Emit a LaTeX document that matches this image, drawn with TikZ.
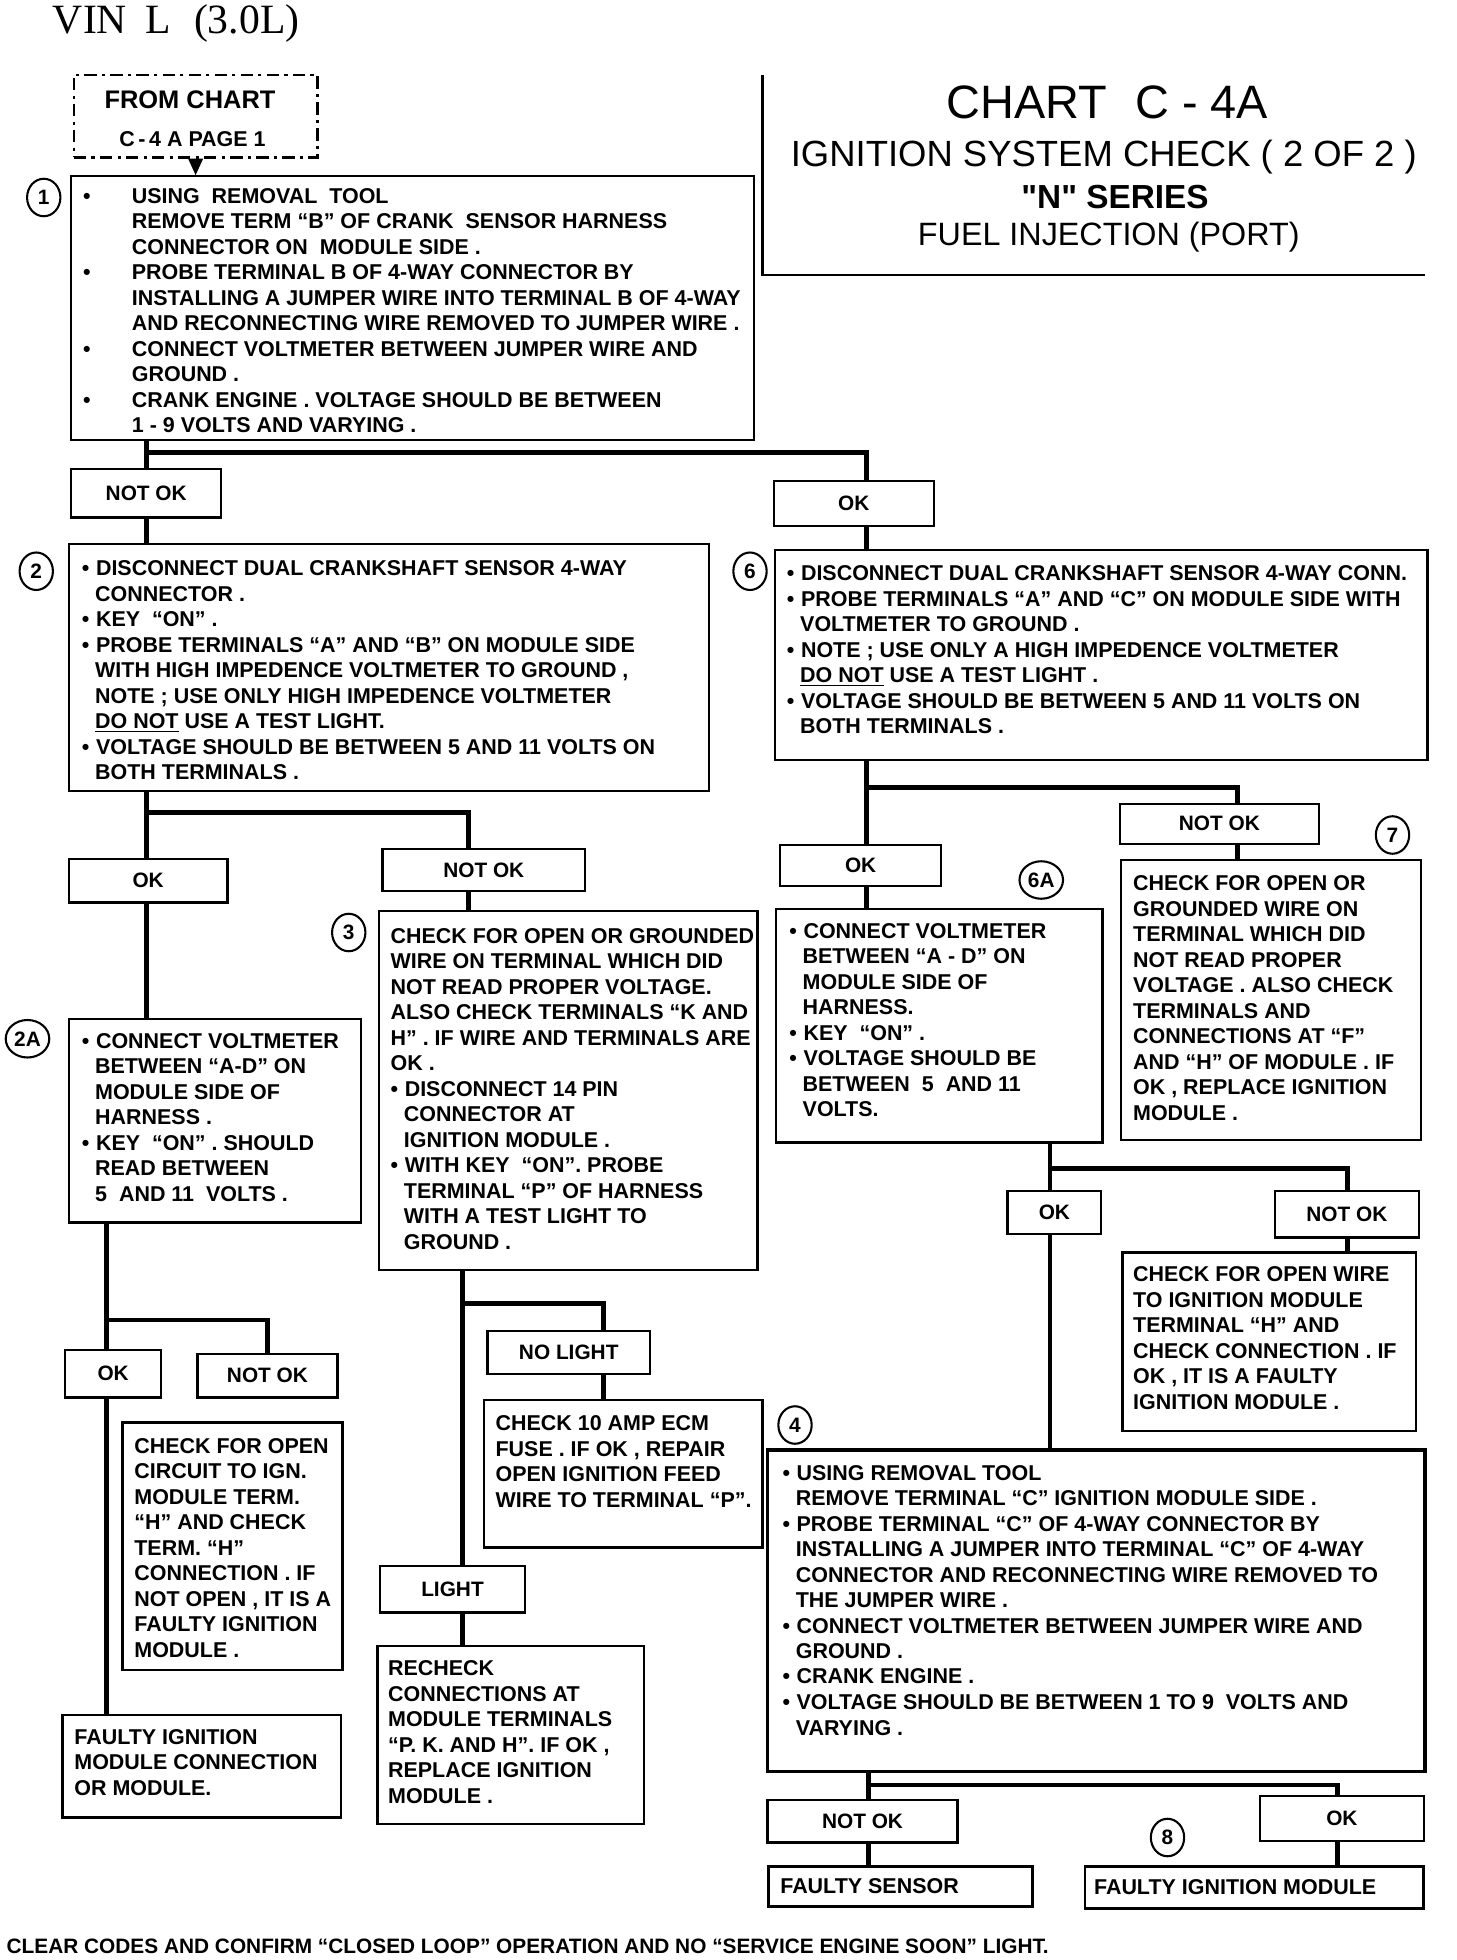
\documentclass[tikz,border=0pt]{standalone}
\usepackage{fontspec}
\setmainfont{Liberation Sans}
\newfontfamily\vinfont{Liberation Serif}
\newfontfamily\seriesfont{Liberation Sans}[Ligatures=TeXOff]
\usetikzlibrary{arrows.meta,fit,shapes.geometric}
% bullets with hanging continuation lines
\newcommand{\bl}{\makebox[0.66em][l]{\textbullet}}
\newcommand{\hg}{\hspace*{0.62em}}
\newcommand{\wbl}{\makebox[23.4pt][l]{\textbullet}}
\newcommand{\whg}{\hspace*{23.4pt}}
\begin{document}
\begin{tikzpicture}[x=0.6pt,y=-0.6pt,
  box/.style={draw,line width=1pt,inner sep=0pt},
  choice/.style={draw,line width=1pt,inner sep=0pt,
    label={[inner sep=0pt,font=\bfseries\fontsize{10}{12}\selectfont]center:#1}},
  txt/.style={anchor=north west,inner sep=0pt,align=left,font=\bfseries\fontsize{10.3}{12.24}\selectfont},
  num/.style={draw,ellipse,line width=1pt,inner sep=1pt,minimum width=16pt,minimum height=18pt,font=\bfseries\fontsize{10}{12}\selectfont},
  wire/.style={line width=2.3pt}]
\useasboundingbox (0,0) rectangle (1165,1568);

% header and title block
\node[font=\vinfont\fontsize{20}{24}\selectfont,anchor=base west,inner sep=0pt] (vin) at (42,27) {VIN\hspace{0.45em}L\hspace{0.55em}(3.0L)};
\node[font=\fontsize{22.5}{26}\selectfont] (chart) at (886,82) {CHART\hspace{0.6em}C - 4A};
\node[font=\fontsize{17.5}{20}\selectfont] (ignsys) at (883,126) {IGNITION SYSTEM CHECK ( 2 OF 2 )};
\node[font=\seriesfont\bfseries\fontsize{16}{19}\selectfont] (series) at (892,158) {"N" SERIES};
\node[font=\fontsize{15.5}{18}\selectfont] (fuel) at (887,190) {FUEL INJECTION (PORT)};
\draw[line width=1pt] (610,60) -- (610,220) -- (1140,220);

% step 1
\node[box,dash pattern=on 6pt off 2.5pt on 1.5pt off 2.5pt,fit={(59,60) (254,126)}] (from) {};
\node[font=\bfseries\fontsize{12.2}{14}\selectfont] (fromA) at (152,80) {FROM CHART};
\node[font=\bfseries\fontsize{10.3}{12}\selectfont] (fromB) at (154,111) {C\,-\,4 A PAGE 1};
\node[box,fit={(57,141) (603,352)}] (b1) {};
\node[txt] (t1) at ([shift={(10,10)}]b1.north west) {\wbl USING\ \ REMOVAL\ \ TOOL\\
\whg REMOVE TERM “B” OF CRANK\ \ SENSOR HARNESS\\
\whg CONNECTOR ON\ \ MODULE SIDE .\\
\wbl PROBE TERMINAL B OF 4-WAY CONNECTOR BY\\
\whg INSTALLING A JUMPER WIRE INTO TERMINAL B OF 4-WAY\\
\whg AND RECONNECTING WIRE REMOVED TO JUMPER WIRE .\\
\wbl CONNECT VOLTMETER BETWEEN JUMPER WIRE AND\\
\whg GROUND .\\
\wbl CRANK ENGINE . VOLTAGE SHOULD BE BETWEEN\\
\whg 1 - 9 VOLTS AND VARYING .};
\node[num] (c1) at (35,158) {1};
\draw[line width=1pt,-{Triangle[length=8pt,width=7pt]}] (from.south) -- (from.south |- b1.north);

\coordinate (j1) at (117,362);
\coordinate (j1r) at (693,362);
\node[choice=NOT OK,fit={(57,375) (177,414)}] (nok1) {};
\node[choice=OK,fit={(619,385) (747,421)}] (ok1) {};
\draw[wire] (b1.south -| j1) -- (nok1.north -| j1);
\draw[wire] (j1) -- (j1r) -- (ok1.north -| j1r);

% step 2 and step 6
\node[box,fit={(55,435) (567,633)}] (b2) {};
\node[txt] (t2) at ([shift={(11,14)}]b2.north west) {\bl DISCONNECT DUAL CRANKSHAFT SENSOR 4-WAY\\
\hg CONNECTOR .\\
\bl KEY\ \ “ON” .\\
\bl PROBE TERMINALS “A” AND “B” ON MODULE SIDE\\
\hg WITH HIGH IMPEDENCE VOLTMETER TO GROUND ,\\
\hg NOTE ; USE ONLY HIGH IMPEDENCE VOLTMETER\\
\hg \underline{DO NOT} USE A TEST LIGHT.\\
\bl VOLTAGE SHOULD BE BETWEEN 5 AND 11 VOLTS ON\\
\hg BOTH TERMINALS .};
\node[num] (c2) at (29,457) {2};
\draw[wire] (nok1.south -| j1) -- (b2.north -| j1);

\node[box,fit={(620,440) (1142,608)}] (b6) {};
\node[txt] (t6) at ([shift={(10,13)}]b6.north west) {\bl DISCONNECT DUAL CRANKSHAFT SENSOR 4-WAY CONN.\\
\bl PROBE TERMINALS “A” AND “C” ON MODULE SIDE WITH\\
\hg VOLTMETER TO GROUND .\\
\bl NOTE ; USE ONLY A HIGH IMPEDENCE VOLTMETER\\
\hg \underline{DO NOT} USE A TEST LIGHT .\\
\bl VOLTAGE SHOULD BE BETWEEN 5 AND 11 VOLTS ON\\
\hg BOTH TERMINALS .};
\node[num] (c6) at (600,457) {6};
\draw[wire] (ok1.south -| j1r) -- (b6.north -| j1r);

% left branch: 2A and 3
\coordinate (j2) at (117,650);
\coordinate (j2r) at (375,650);
\node[choice=OK,fit={(55,687) (182,722)}] (ok2) {};
\node[choice=NOT OK,fit={(306,679) (468,713)}] (nok2) {};
\draw[wire] (b2.south -| j2) -- (ok2.north -| j2);
\draw[wire] (j2) -- (j2r) -- (nok2.north -| j2r);

\node[box,fit={(55,815) (289,978)}] (b2a) {};
\node[txt] (t2a) at ([shift={(11,12)}]b2a.north west) {\bl CONNECT VOLTMETER\\
\hg BETWEEN “A-D” ON\\
\hg MODULE SIDE OF\\
\hg HARNESS .\\
\bl KEY\ \ “ON” . SHOULD\\
\hg READ BETWEEN\\
\hg 5\ \ AND 11\ \ VOLTS .};
\node[num] (c2a) at (22,831) {2A};
\draw[wire] (ok2.south -| j2) -- (b2a.north -| j2);

\node[box,fit={(303,729) (606,1016)}] (b3) {};
\node[txt] (t3) at ([shift={(10,14)}]b3.north west) {CHECK FOR OPEN OR GROUNDED\\
WIRE ON TERMINAL WHICH DID\\
NOT READ PROPER VOLTAGE.\\
ALSO CHECK TERMINALS “K AND\\
H” . IF WIRE AND TERMINALS ARE\\
OK .\\
\bl DISCONNECT 14 PIN\\
\hg CONNECTOR AT\\
\hg IGNITION MODULE .\\
\bl WITH KEY\ \ “ON”. PROBE\\
\hg TERMINAL “P” OF HARNESS\\
\hg WITH A TEST LIGHT TO\\
\hg GROUND .};
\node[num] (c3) at (279,746) {3};
\draw[wire] (nok2.south -| j2r) -- (b3.north -| j2r);

% below 2A
\coordinate (j3) at (85,1056);
\coordinate (j3r) at (214,1056);
\node[choice=OK,fit={(52,1080) (129,1118)}] (ok4) {};
\node[choice=NOT OK,fit={(158,1083) (270,1118)}] (nok4) {};
\draw[wire] (b2a.south -| j3) -- (ok4.north -| j3);
\draw[wire] (j3) -- (j3r) -- (nok4.north -| j3r);
\node[box,fit={(98,1138) (274,1336)}] (bc) {};
\node[txt] (tc) at ([shift={(10,13)}]bc.north west) {CHECK FOR OPEN\\
CIRCUIT TO IGN.\\
MODULE TERM.\\
“H” AND CHECK\\
TERM. “H”\\
CONNECTION . IF\\
NOT OPEN , IT IS A\\
FAULTY IGNITION\\
MODULE .};
\node[box,fit={(50,1372) (273,1454)}] (bf) {};
\node[txt] (tf) at ([shift={(10,12)}]bf.north west) {FAULTY IGNITION\\
MODULE CONNECTION\\
OR MODULE.};
\draw[wire] (ok4.south -| j3) -- (bf.north -| j3);

% below 3
\coordinate (j4) at (370,1043);
\coordinate (j4r) at (483,1043);
\node[choice=NO LIGHT,fit={(390,1065) (520,1099)}] (nolight) {};
\node[box,fit={(387,1120) (610,1238)}] (b10) {};
\node[txt] (t10) at ([shift={(10,13)}]b10.north west) {CHECK 10 AMP ECM\\
FUSE . IF OK , REPAIR\\
OPEN IGNITION FEED\\
WIRE TO TERMINAL “P”.};
\node[choice=LIGHT,fit={(304,1253) (420,1290)}] (light) {};
\node[box,fit={(302,1317) (515,1459)}] (br) {};
\node[txt] (tr) at ([shift={(9,12)}]br.north west) {RECHECK\\
CONNECTIONS AT\\
MODULE TERMINALS\\
“P. K. AND H”. IF OK ,\\
REPLACE IGNITION\\
MODULE .};
\draw[wire] (b3.south -| j4) -- (light.north -| j4);
\draw[wire] (j4) -- (j4r) -- (nolight.north -| j4r);
\draw[wire] (nolight.south -| j4r) -- (b10.north -| j4r);
\draw[wire] (light.south -| j4) -- (br.north -| j4);

% right branch: 6A and 7
\coordinate (j5) at (693,630);
\coordinate (j5r) at (990,630);
\node[choice=OK,fit={(624,676) (753,709)}] (ok3) {};
\node[choice=NOT OK,fit={(896,643) (1055,675)}] (nok3) {};
\draw[wire] (b6.south -| j5) -- (ok3.north -| j5);
\draw[wire] (j5) -- (j5r) -- (nok3.north -| j5r);

\node[box,fit={(621,727) (882,914)}] (b6a) {};
\node[txt] (t6a) at ([shift={(11,12)}]b6a.north west) {\bl CONNECT VOLTMETER\\
\hg BETWEEN “A - D” ON\\
\hg MODULE SIDE OF\\
\hg HARNESS.\\
\bl KEY\ \ “ON” .\\
\bl VOLTAGE SHOULD BE\\
\hg BETWEEN\ \ 5\ \ AND 11\\
\hg VOLTS.};
\node[num] (c6a) at (833,704) {6A};
\draw[wire] (ok3.south -| j5) -- (b6a.north -| j5);

\node[box,fit={(897,688) (1137,912)}] (b7) {};
\node[txt] (t7) at ([shift={(10,13)}]b7.north west) {CHECK FOR OPEN OR\\
GROUNDED WIRE ON\\
TERMINAL WHICH DID\\
NOT READ PROPER\\
VOLTAGE . ALSO CHECK\\
TERMINALS AND\\
CONNECTIONS AT “F”\\
AND “H” OF MODULE . IF\\
OK , REPLACE IGNITION\\
MODULE .};
\node[num] (c7) at (1114,668) {7};
\draw[wire] (nok3.south -| j5r) -- (b7.north -| j5r);

% below 6A
\coordinate (j6) at (840,935);
\coordinate (j6r) at (1078,935);
\node[choice=OK,fit={(806,953) (881,987)}] (ok5) {};
\node[choice=NOT OK,fit={(1020,953) (1135,990)}] (nok5) {};
\draw[wire] (b6a.south -| j6) -- (ok5.north -| j6);
\draw[wire] (j6) -- (j6r) -- (nok5.north -| j6r);
\node[box,fit={(898,1002) (1133,1145)}] (bw) {};
\node[txt] (tw) at ([shift={(9,12)}]bw.north west) {CHECK FOR OPEN WIRE\\
TO IGNITION MODULE\\
TERMINAL “H” AND\\
CHECK CONNECTION . IF\\
OK , IT IS A FAULTY\\
IGNITION MODULE .};
\draw[wire] (nok5.south -| j6r) -- (bw.north -| j6r);

% step 4
\node[box,line width=1.6pt,fit={(614,1160) (1140,1417)}] (b4) {};
\node[txt] (t4) at ([shift={(13,13)}]b4.north west) {\bl USING REMOVAL TOOL\\
\hg REMOVE TERMINAL “C” IGNITION MODULE SIDE .\\
\bl PROBE TERMINAL “C” OF 4-WAY CONNECTOR BY\\
\hg INSTALLING A JUMPER INTO TERMINAL “C” OF 4-WAY\\
\hg CONNECTOR AND RECONNECTING WIRE REMOVED TO\\
\hg THE JUMPER WIRE .\\
\bl CONNECT VOLTMETER BETWEEN JUMPER WIRE AND\\
\hg GROUND .\\
\bl CRANK ENGINE .\\
\bl VOLTAGE SHOULD BE BETWEEN 1 TO 9\ \ VOLTS AND\\
\hg VARYING .};
\node[num] (c4) at (636,1140) {4};
\draw[wire] (ok5.south -| j6) -- (b4.north -| j6);

% below 4
\coordinate (j7) at (695,1428);
\coordinate (j7r) at (1070,1428);
\node[choice=NOT OK,fit={(614,1440) (766,1474)}] (nok6) {};
\node[choice=OK,fit={(1008,1437) (1139,1473)}] (ok6) {};
\draw[wire] (b4.south -| j7) -- (nok6.north -| j7);
\draw[wire] (j7) -- (j7r) -- (ok6.north -| j7r);
\node[box,line width=1.3pt,fit={(615,1493) (826,1525)}] (fsens) {};
\node[txt,anchor=west] (tfs) at ([shift={(10,0)}]fsens.west) {FAULTY SENSOR};
\node[box,line width=1.3pt,fit={(868,1493) (1139,1527)}] (fign) {};
\node[txt,anchor=west] (tfi) at ([shift={(8,0)}]fign.west) {FAULTY IGNITION MODULE};
\node[num] (c8) at (934,1470) {8};
\draw[wire] (nok6.south -| j7) -- (fsens.north -| j7);
\draw[wire] (ok6.south -| j7r) -- (fign.north -| j7r);

% footer
\node[anchor=west,inner sep=0pt,font=\bfseries\fontsize{10}{12}\selectfont] (clr) at (5,1557) {CLEAR CODES AND CONFIRM “CLOSED LOOP” OPERATION AND NO “SERVICE ENGINE SOON” LIGHT.};
\end{tikzpicture}
\end{document}
